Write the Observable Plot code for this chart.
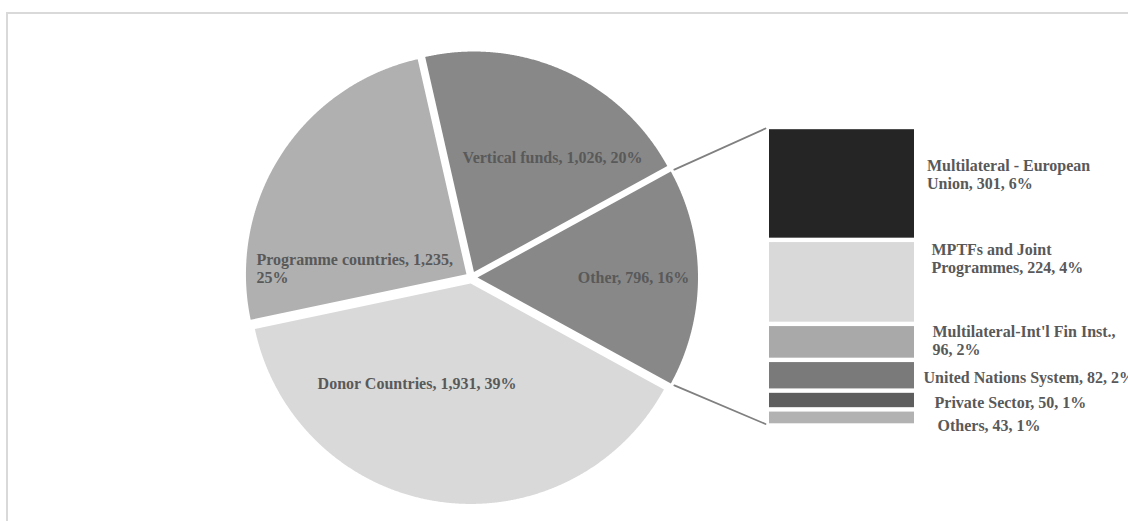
<!DOCTYPE html>
<html><head><meta charset="utf-8">
<script src="https://cdn.jsdelivr.net/npm/d3@7"></script>
<script src="https://cdn.jsdelivr.net/npm/@observablehq/plot@0.6"></script>
<style>
html,body{margin:0;padding:0;background:#fff;}
#wrap{position:relative;width:1128px;height:521px;overflow:hidden;background:#fff;}
#border{position:absolute;left:6px;top:12px;width:1200px;height:600px;border:2px solid #d9d9d9;box-sizing:border-box;}
#pie,#bar{position:absolute;top:0;}
#pie{left:0;}
svg{overflow:visible;}
</style></head><body>
<div id="wrap"><div id="border"></div><div id="pie"></div><div id="bar"></div></div>
<script>
// ---- data ----
const categories = ["Donor Countries", "Programme countries", "Vertical funds", "Other"];
const values = [1931, 1235, 1026, 796];
const percents = [39, 25, 20, 16];
const otherCategories = ["Multilateral - European Union", "MPTFs and Joint Programmes", "Multilateral-Int'l Fin Inst.", "United Nations System", "Private Sector", "Others"];
const otherValues = [301, 224, 96, 82, 50, 43];
const otherPercents = [6, 4, 2, 2, 1, 1];

// ---- styles ----
const pieColors = ["#d9d9d9", "#b0b0b0", "#888888", "#888888"];
const barColors = ["#252525", "#d9d9d9", "#a9a9a9", "#7a7a7a", "#5e5e5e", "#b2b2b2"];
const textColor = "#595959";
const font = "'Liberation Serif','Times New Roman',serif";

// ---- layout ----
const W = 1128, H = 521;
const cx = 471, cy = 277, R = 220.5, explode = 6;
const barLeft = 769, barWidth = 145, barTop = 127, barBottom = 425.5;
const pieLabelPos = [[416.5, 383, "middle"], [256, 268, "start"], [552, 157, "middle"], [633, 277, "middle"]];
const pieWrap = [0, 3, 0, 0];
const barLabelLeft = [926.5, 931, 932, 923, 934, 937];
const barLabelDy = [-9.4, -23.9, -2.2, 1.8, 2, 7.6];
const barWrap = [3, 3, 3, 0, 0, 0];

const fmt = d3.format(",");
function wrap(s, n) {
  if (!n) return s;
  const w = s.split(" ");
  return w.slice(0, n).join(" ") + "\n" + w.slice(n).join(" ");
}
const textStyle = {fill: textColor, fontFamily: font, fontWeight: "bold", fontSize: 16, lineHeight: 1.14, lineAnchor: "middle"};

// ---- pie ----
const total = d3.sum(values);
const otherAngle = 2 * Math.PI * values[3] / total;
const a0 = Math.PI / 2 + otherAngle / 2;
const arcs = d3.pie().sort(null).startAngle(a0).endAngle(a0 + 2 * Math.PI)(values);
const e = explode / R;
const slices = arcs.map((a, i) => {
  const bis = (a.startAngle + a.endAngle) / 2;
  const ox = e * Math.sin(bis), oy = -e * Math.cos(bis);
  const pts = [{x: ox, y: oy, i}];
  const n = Math.ceil((a.endAngle - a.startAngle) / 0.004);
  for (let k = 0; k <= n; k++) {
    const t = a.startAngle + (a.endAngle - a.startAngle) * k / n;
    pts.push({x: ox + Math.sin(t), y: oy - Math.cos(t), i});
  }
  return {pts, ox, oy, a};
});
const oth = slices[3];
const corner = (t, extra) => ({x: oth.ox + (1 + extra) * Math.sin(t), y: oth.oy - (1 + extra) * Math.cos(t)});
const ext = 4 / R;
const connectors = [
  [corner(oth.a.startAngle, ext), {x: (barLeft - 4 - cx) / R, y: (barTop + 1 - cy) / R}],
  [corner(oth.a.endAngle, ext), {x: (barLeft - 4 - cx) / R, y: (barBottom - 2 - cy) / R}]
];

const pieMarks = [];
slices.forEach((s, i) => pieMarks.push(Plot.line(s.pts, {x: "x", y: "y", fill: pieColors[i], stroke: "none", curve: "linear-closed"})));
connectors.forEach(c => pieMarks.push(Plot.line(c, {x: "x", y: "y", stroke: "#808080", strokeWidth: 1.8})));
categories.forEach((c, i) => {
  const [px, py, anchor] = pieLabelPos[i];
  const label = wrap(`${c}, ${fmt(values[i])}, ${percents[i]}%`, pieWrap[i]);
  pieMarks.push(Plot.text([label], {x: () => (px - cx) / R, y: () => (py - cy) / R, text: d => d, textAnchor: anchor, ...textStyle}));
});

const pie = Plot.plot({
  width: W, height: H, margin: 0,
  x: {type: "linear", domain: [-cx / R, (W - cx) / R], range: [0, W], axis: null},
  y: {type: "linear", domain: [-cy / R, (H - cy) / R], range: [0, H], axis: null},
  style: {background: "transparent"},
  marks: pieMarks
});
document.getElementById("pie").appendChild(pie);

// ---- bar of pie ----
const rows = otherCategories.map((c, i) => ({name: c, value: otherValues[i], color: barColors[i], group: "Other"}));
let cum = 0;
const mids = otherValues.map(v => { const m = cum + v / 2; cum += v; return m; });
const barMarks = [
  Plot.barY(rows, {x: "group", y: "value", fill: "color", insetTop: 2.2, insetBottom: 2.2})
];
rows.forEach((r, i) => {
  const label = wrap(`${r.name}, ${fmt(r.value)}, ${otherPercents[i]}%`, barWrap[i]);
  barMarks.push(Plot.text([label], {x: () => "Other", y: () => mids[i], text: d => d, textAnchor: "start",
    dx: barLabelLeft[i] - barLeft - barWidth / 2, dy: barLabelDy[i], ...textStyle}));
});
const barW = W - barLeft;
const bar = Plot.plot({
  width: barW, height: H, margin: 0,
  x: {type: "band", domain: ["Other"], range: [0, barWidth], padding: 0, axis: null},
  y: {type: "linear", domain: [0, d3.sum(otherValues)], range: [barTop, barBottom], axis: null},
  color: {type: "identity"},
  style: {background: "transparent", overflow: "visible"},
  marks: barMarks
});
const barDiv = document.getElementById("bar");
barDiv.style.left = barLeft + "px";
barDiv.appendChild(bar);
</script>
</body></html>
